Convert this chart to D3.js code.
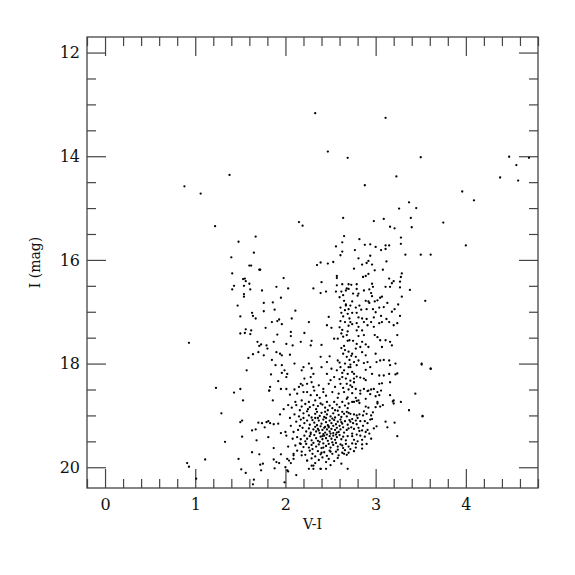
<!DOCTYPE html>
<html>
<head>
<meta charset="utf-8">
<script src="https://cdn.jsdelivr.net/npm/d3@7"></script>
<style>
  body { margin: 0; background: #fff; }
  text { font-family: "DejaVu Serif", "Liberation Serif", serif; fill: #111; }
</style>
</head>
<body>
<svg id="chart" width="575" height="575"></svg>
<script>
// stars as [V-I, I]
const brightStars = [
  [2.33,13.17],[3.11,13.26],[2.47,13.91],[2.69,14.03],[3.50,14.02],[3.23,14.39],[2.88,14.56],
  [4.48,14.01],[4.56,14.17],[4.70,14.03],[4.38,14.41],[4.58,14.47],[3.96,14.68],[4.09,14.85],
  [3.75,15.28],[4.00,15.72],[3.37,14.89],[3.26,15.01],[3.45,15.00],[3.39,15.19],[3.40,15.37],
  [3.16,15.36],[3.21,15.39],[3.09,15.21],[2.98,15.25],[2.64,15.19],[2.15,15.27],[2.19,15.34],
  [1.38,14.36],[0.88,14.58],[1.06,14.72],[1.22,15.35]
];

const blueStars = [
  [1.67,15.55],[1.48,15.65],[1.65,15.86],[1.40,15.95],[1.60,16.11],[1.62,16.11],[1.71,16.19],
  [1.41,16.26],[1.53,16.37],[1.55,16.36],[1.56,16.41],[1.60,16.46],[1.43,16.50],[1.54,16.50],
  [1.41,16.57],[1.61,16.57],[1.54,16.66],[1.54,16.71],[1.47,16.88],[1.63,17.02],[1.64,17.08],
  [1.50,17.09],[1.67,17.13],[1.56,17.34],[1.62,17.36],[1.50,17.42],[1.55,17.41],[1.61,17.43],
  [1.69,17.58],[1.71,17.66],[1.70,17.78],[1.64,17.82],[1.59,17.89],[0.93,17.60],[1.57,18.13],
  [1.23,18.47],[1.50,18.49],[1.43,18.56],[1.53,18.71],[1.29,18.96]
];

const faintBlue = [
  [1.50,19.13],[1.52,19.10],[1.70,19.14],[1.74,19.15],[1.81,19.11],[1.63,19.29],[1.67,19.27],
  [1.77,19.23],[1.52,19.41],[1.33,19.51],[1.68,19.48],[1.81,19.42],[1.63,19.71],[1.71,19.75],
  [1.48,19.84],[1.11,19.85],[1.72,19.95],[1.51,20.04],[1.56,20.11],[1.73,20.06],[0.91,19.92],
  [0.93,19.99],[1.01,20.22],[1.65,20.24],[1.64,20.33],[1.87,19.63],[1.87,19.85],[1.88,20.02],
  [1.93,19.92],[1.99,20.29],[1.95,19.75],[2.00,20.00],[2.02,19.84],[2.03,20.08],[2.06,19.92],
  [2.12,20.15],[2.09,19.77],[2.13,19.68],[1.82,18.52],[1.94,18.98],[1.79,19.13],[1.83,19.15],
  [1.87,19.17],[1.92,19.16],[1.95,19.34],[2.00,19.32],[2.01,19.39],[1.90,19.90],[1.75,19.93],
  [2.04,19.87],[2.09,19.84],[2.02,20.06],[2.09,19.74],[2.17,19.55],[2.18,19.77],[2.24,19.87],
  [2.29,19.97],[2.31,20.03],[2.39,20.03],[2.69,20.03],[2.09,19.32],[2.05,19.05],[1.98,18.88],
  [2.03,18.80]
];

const subgiants = [
  [2.39,16.05],[2.35,16.10],[2.47,16.07],[2.53,16.04],[2.40,16.43],[2.31,16.55],[2.45,16.61],
  [2.39,16.64],[1.98,16.35],[1.90,16.52],[2.03,16.55],[1.74,16.59],[1.95,16.73],[1.76,16.83],
  [1.86,16.82],[1.88,16.96],[2.11,16.98],[1.76,16.99],[2.48,17.10],[2.07,17.13],[1.93,17.15],
  [1.72,16.19],
  [1.85,17.20],[1.91,17.18],[1.96,17.24],[1.78,17.31],[2.26,17.20],[2.46,17.26],[2.51,17.31],
  [2.06,17.39],[2.06,17.47],[2.21,17.41],[1.91,17.44],[1.87,17.58],[1.79,17.65],[2.01,17.62],
  [2.08,17.65],[2.17,17.58],[2.29,17.56],[2.28,17.65],[2.40,17.64],[2.54,17.52],[2.58,17.52],
  [1.73,17.63],[1.80,17.71],[1.90,17.78],[1.94,17.81],[1.96,17.84],[2.05,17.83],[1.76,17.84],
  [1.85,17.93],[2.10,18.00],[2.39,17.87],[2.49,17.86],[2.58,17.94],[2.46,17.97],[2.26,18.00],
  [1.89,18.03],[1.96,18.03],[1.99,18.13],[2.02,18.20],[1.96,18.18],[2.01,18.26],[1.84,18.21],
  [2.20,18.07],[2.18,18.13],[2.29,18.09],[2.31,18.20],[2.28,18.26],[2.40,18.07],[2.51,18.10],
  [2.57,18.13],[2.21,18.29],[2.46,18.20],[2.54,18.26],[2.29,18.36],
  [1.92,18.34],[1.83,18.45],[1.82,18.52],[1.95,18.49],[2.01,18.49],[1.86,18.71],[2.17,18.39],
  [2.19,18.42],[2.15,18.45],[2.24,18.39],[2.31,18.45],[2.37,18.42],[2.42,18.49],[2.48,18.39],
  [2.50,18.32],[2.55,18.45],[2.13,18.58],[2.20,18.55],[2.28,18.61],[2.35,18.61],[2.42,18.55],
  [2.52,18.55],[2.59,18.58],[2.11,18.74],[2.18,18.71],[2.26,18.74],[2.33,18.71],[2.39,18.77],
  [2.46,18.74],[2.54,18.74],
  [2.05,18.60],[2.10,18.50],[2.24,18.55],[2.32,18.52],[2.38,18.66],[2.45,18.62],[2.07,18.85],
  [2.16,18.90]
];

const giantBranch = [
  [2.65,15.54],[2.63,15.66],[2.56,15.74],[2.63,15.84],[2.61,15.91],[2.57,16.31],[2.57,16.35],
  [2.57,16.49],[2.63,16.47],[2.68,16.55],[2.70,16.47],[2.56,16.61],[2.62,16.61],[2.67,16.59],
  [2.70,16.56],[2.60,16.72],[2.65,16.79],[2.67,16.86],[2.61,16.92],[2.66,16.97],[2.69,17.04],
  [2.64,17.09],[2.71,17.13],
  [2.82,15.60],[2.88,15.71],[2.94,15.70],[3.00,15.75],[3.11,15.72],[3.15,15.72],[3.06,15.81],
  [3.11,15.79],[3.28,15.57],[3.28,15.69],[3.33,15.90],[3.50,15.90],[3.61,15.90],[2.77,15.81],
  [2.81,15.97],[2.94,15.92],[2.92,16.02],[2.96,16.09],[2.85,16.09],[2.90,16.06],[3.12,16.03],
  [2.76,16.17],[2.99,16.20],[3.08,16.19],[2.92,16.27],[2.89,16.31],[2.86,16.33],[3.29,16.26],
  [3.28,16.33],[3.15,16.36],[3.20,16.41],[3.18,16.45],[3.27,16.42],[3.16,16.52],[3.11,16.52],
  [2.96,16.46],[2.97,16.52],[3.38,16.58],[3.27,16.53],[2.73,16.48],[2.79,16.47],[2.79,16.56],
  [2.87,16.59],[2.93,16.57],[2.95,16.64],[2.75,16.65],[2.80,16.69],[2.81,16.65],[2.96,16.70],
  [3.05,16.73],[3.07,16.71],[3.02,16.78],[3.29,16.71],[3.13,16.83],[3.55,16.79],[3.25,16.86],
  [2.89,16.79],[2.92,16.80],[2.93,16.83],[2.99,16.80],[2.74,16.80],[2.72,16.88],[2.78,16.92],
  [2.82,16.88],[2.84,16.96],[2.90,16.95],[2.97,16.95],[3.00,17.01],[3.09,16.91],[3.04,16.92],
  [3.21,16.95],[3.18,17.00],[2.74,17.02],[2.79,17.02],[2.81,17.11],[2.85,17.13],[2.90,17.14],
  [2.98,17.11],[3.06,17.08],[3.27,17.08],[3.12,17.14],
  [2.61,17.18],[2.60,17.30],[2.63,17.35],[2.62,17.42],[2.69,17.38],[2.72,17.20],[2.65,17.66],
  [2.69,17.56],[2.64,17.81],[2.68,17.87],[2.71,17.93],[2.61,18.07],[2.65,18.13],[2.70,18.07],
  [2.69,18.20],[2.63,18.26],[2.61,18.39],[2.68,18.39],[2.65,18.55],[2.69,18.65],[2.63,18.74],
  [2.70,18.77],
  [2.64,16.68],[2.67,16.88],[2.70,16.95],[2.62,17.02],[2.66,17.20],[2.70,17.27],[2.64,17.48],
  [2.68,17.45],[2.71,17.55],[2.62,17.70],[2.66,17.74],[2.70,17.77],[2.73,17.85],[2.60,17.98],
  [2.66,18.00],[2.72,18.02],[2.63,18.18],[2.67,18.29],[2.72,18.33],[2.60,18.30],[2.64,18.47],
  [2.70,18.50],[2.74,18.57],[2.58,18.66],[2.68,18.68],
  [2.74,17.24],[2.79,17.22],[2.81,17.29],[2.87,17.20],[2.91,17.26],[2.95,17.20],[2.98,17.29],
  [3.04,17.22],[3.07,17.20],[3.15,17.20],[3.20,17.26],[3.24,17.22],[2.79,17.36],[2.85,17.36],
  [2.99,17.45],[3.02,17.49],[2.81,17.47],[2.87,17.45],[3.24,17.45],[2.75,17.56],[2.79,17.62],
  [2.85,17.58],[2.89,17.63],[2.92,17.68],[3.05,17.55],[3.11,17.55],[3.16,17.58],[3.18,17.65],
  [3.07,17.68],[2.83,17.68],[2.78,17.71],[2.74,17.81],[2.78,17.87],[2.85,17.78],[2.89,17.84],
  [3.00,17.81],[2.76,17.97],[2.81,17.94],[2.87,17.99],[2.91,17.97],[3.01,17.97],[3.05,17.94],
  [3.09,17.93],[3.15,17.94],[3.16,18.03],[3.22,18.00],[2.72,18.07],[2.79,18.03],[2.94,18.07],
  [2.89,18.12],[3.51,18.00],[3.61,18.10],[3.24,18.19],[3.22,18.21],[2.74,18.16],[2.76,18.20],
  [2.79,18.25],[2.76,18.29],[2.83,18.27],[2.89,18.32],[2.87,18.29],[2.96,18.20],[3.04,18.23],
  [3.09,18.23],[3.15,18.20],[3.16,18.36],[3.07,18.38],[3.04,18.39],[2.76,18.36],[2.72,18.42],
  [2.74,18.45],[2.78,18.49],[2.83,18.52],[2.87,18.49],[2.91,18.53],[2.92,18.52],[2.95,18.50],
  [2.98,18.49],[3.02,18.55],[3.06,18.52],[2.83,18.58],[2.94,18.59],[3.00,18.63],[2.81,18.71],
  [2.76,18.74],[3.04,18.61],[3.16,18.61],[3.20,18.71],[3.28,18.74],[3.44,18.58],[3.02,18.74],
  [2.78,18.66],[2.89,18.68],[3.51,18.02],[3.61,18.10],[3.52,19.02]
];

const clump = [
  [2.74,18.74],[2.79,18.72],[2.82,18.76],[2.89,18.83],[2.92,18.85],[2.97,18.94],[3.00,18.84],
  [3.02,18.77],[3.05,18.83],[3.08,18.80],[3.19,18.73],[3.20,18.77],[3.37,18.90],[3.52,19.01],
  [3.11,19.12],[3.13,19.23],[3.21,19.14],[3.01,19.21],[3.24,19.40],[2.76,19.69],[2.85,19.64],
  [2.90,19.55],[2.85,19.56],[2.72,18.97],[2.76,18.98],[2.79,19.00],[2.82,18.98],[2.86,19.00],
  [2.90,18.97],[2.95,19.00],[2.74,19.07],[2.78,19.10],[2.75,19.15],[2.79,19.17],[2.83,19.11],
  [2.88,19.11],[2.91,19.15],[2.94,19.08],[2.96,19.07],[2.73,19.23],[2.76,19.26],[2.81,19.24],
  [2.85,19.29],[2.89,19.32],[2.91,19.28],[2.74,19.35],[2.79,19.37],[2.83,19.39],[2.88,19.41],
  [2.76,19.47],[2.80,19.50],[2.85,19.47],[2.74,19.54],[2.78,19.55],[2.72,19.65],
  [2.12,18.80],[2.18,18.83],[2.22,18.78],[2.27,18.84],[2.31,18.80],[2.36,18.82],[2.41,18.79],
  [2.44,18.85],[2.49,18.81],[2.52,18.86],[2.57,18.79],[2.60,18.84],[2.66,18.81],[2.69,18.86],
  [2.34,18.88],[2.47,18.90],[2.58,18.91],[2.24,18.92],[2.63,18.93],
  [2.10,18.98],[2.15,19.02],[2.20,18.96],[2.26,19.00],[2.29,19.04],[2.33,18.97],[2.38,19.01],
  [2.40,18.95],[2.43,19.03],[2.46,18.98],[2.50,19.02],[2.53,18.96],[2.55,19.04],[2.59,18.99],
  [2.62,19.03],[2.65,18.97],[2.68,19.02],[2.70,18.95],[2.36,19.05],[2.52,19.06],[2.44,18.93],
  [2.12,19.12],[2.17,19.08],[2.21,19.15],[2.24,19.10],[2.27,19.18],[2.30,19.09],[2.32,19.14],
  [2.35,19.19],[2.37,19.10],[2.40,19.16],[2.42,19.08],[2.45,19.13],[2.47,19.19],[2.49,19.10],
  [2.51,19.15],[2.54,19.09],[2.56,19.17],[2.58,19.12],[2.61,19.08],[2.63,19.16],[2.66,19.11],
  [2.69,19.18],[2.71,19.09],[2.39,19.21],[2.53,19.20],[2.60,19.20],[2.44,19.22],
  [2.14,19.28],[2.19,19.24],[2.23,19.31],[2.26,19.25],[2.28,19.33],[2.31,19.27],[2.33,19.22],
  [2.34,19.31],[2.36,19.26],[2.38,19.34],[2.41,19.28],[2.43,19.24],[2.44,19.33],[2.46,19.27],
  [2.48,19.23],[2.49,19.31],[2.51,19.26],[2.53,19.34],[2.55,19.28],[2.57,19.24],[2.59,19.32],
  [2.61,19.27],[2.64,19.23],[2.65,19.33],[2.68,19.28],[2.70,19.25],[2.37,19.29],[2.50,19.35],
  [2.42,19.36],[2.56,19.37],
  [2.13,19.42],[2.17,19.46],[2.21,19.39],[2.24,19.45],[2.27,19.40],[2.29,19.48],[2.32,19.38],
  [2.34,19.44],[2.36,19.49],[2.39,19.41],[2.41,19.46],[2.43,19.39],[2.45,19.44],[2.47,19.49],
  [2.49,19.40],[2.51,19.45],[2.53,19.39],[2.55,19.47],[2.57,19.42],[2.60,19.38],[2.62,19.46],
  [2.64,19.41],[2.67,19.48],[2.69,19.40],[2.38,19.51],[2.52,19.52],[2.46,19.37],
  [2.11,19.58],[2.16,19.54],[2.20,19.61],[2.23,19.55],[2.26,19.62],[2.29,19.57],[2.31,19.53],
  [2.34,19.60],[2.37,19.56],[2.40,19.63],[2.42,19.54],[2.45,19.59],[2.48,19.55],[2.50,19.62],
  [2.53,19.57],[2.56,19.53],[2.58,19.60],[2.61,19.56],[2.64,19.63],[2.67,19.55],[2.70,19.60],
  [2.18,19.70],[2.22,19.76],[2.27,19.68],[2.30,19.74],[2.33,19.79],[2.36,19.69],[2.39,19.75],
  [2.43,19.71],[2.46,19.78],[2.49,19.68],[2.52,19.74],[2.56,19.70],[2.59,19.77],[2.63,19.72],
  [2.66,19.67],[2.68,19.76],
  [2.24,19.87],[2.29,19.83],[2.33,19.92],[2.37,19.86],[2.41,19.81],[2.45,19.90],[2.48,19.84],
  [2.54,19.88],[2.58,19.82],[2.62,19.93],[2.45,20.03],[2.26,20.03],[2.39,20.03],[2.31,19.97],
  [2.50,19.96],[2.65,19.74],
  [2.20,19.05],[2.28,19.36],[2.35,18.93],[2.42,19.62],[2.74,19.40],[2.80,19.05],[2.86,19.20],
  [2.93,19.35],[2.70,19.72],[2.78,19.62],[2.16,19.20],[2.22,19.50],[2.30,19.65],[2.55,18.90],
  [2.63,19.58],[2.87,18.92],[2.95,19.45],[2.82,19.30],[2.72,19.12],[2.25,18.88],[2.06,19.20],
  [2.08,19.45],[2.03,19.60],[2.98,19.25],[2.68,18.93],[2.50,19.70],[2.40,19.72],[2.58,19.66],
  [2.33,19.05],[2.45,19.05],[2.48,19.21],[2.57,19.33],[2.41,19.40],[2.62,19.13]
];

const xMajor = [0, 1, 2, 3, 4];
const yMajor = [12, 14, 16, 18, 20];

const width = 575;
const height = 575;
const margin = { top: 37, right: 37, bottom: 87, left: 87 };

const svg = d3.select("#chart");

const xScale = d3.scaleLinear()
    .domain([-0.2, 4.8])
    .range([margin.left, width - margin.right]);

const yScale = d3.scaleLinear()
    .domain([11.7, 20.4])
    .range([margin.top, height - margin.bottom]);

const xMinor = d3.range(-0.2, 4.81, 0.2).map(d => +d.toFixed(1)).filter(d => !xMajor.includes(d));
const yMinor = d3.range(12, 20.01, 0.5).filter(d => !yMajor.includes(d));

const bottom = height - margin.bottom;
const right = width - margin.right;

// draws one side of the frame: major ticks (optionally labelled) plus minor ticks, all pointing inward
function drawAxis(axisFn, transform, opts) {
    const g = svg.append("g").attr("transform", transform);
    g.call(axisFn(opts.scale).tickValues(opts.major).tickSize(-19).tickPadding(opts.pad)
        .tickFormat(opts.show ? d3.format("d") : () => ""));
    g.select(".domain").remove();
    const m = svg.append("g").attr("transform", transform);
    m.call(axisFn(opts.scale).tickValues(opts.minor).tickSize(-9).tickFormat(() => ""));
    m.select(".domain").remove();
    svg.selectAll(".tick line").attr("stroke", "#444").attr("stroke-width", 1.2);
    g.selectAll("text").style("font-size", "16px").attr("fill", "#111");
}

const xOpts = { scale: xScale, major: xMajor, minor: xMinor };
const yOpts = { scale: yScale, major: yMajor, minor: yMinor };

drawAxis(d3.axisBottom, `translate(0,${bottom})`, { ...xOpts, show: true, pad: 11 });
drawAxis(d3.axisTop, `translate(0,${margin.top})`, { ...xOpts, show: false, pad: 4 });
drawAxis(d3.axisLeft, `translate(${margin.left},0)`, { ...yOpts, show: true, pad: 7 });
drawAxis(d3.axisRight, `translate(${right},0)`, { ...yOpts, show: false, pad: 4 });

// frame
svg.append("rect")
    .attr("x", margin.left)
    .attr("y", margin.top)
    .attr("width", right - margin.left)
    .attr("height", bottom - margin.top)
    .attr("fill", "none")
    .attr("stroke", "#444")
    .attr("stroke-width", 1.3);

// stars
const allStars = [].concat(brightStars, blueStars, faintBlue, subgiants, giantBranch, clump);
svg.append("g")
    .selectAll("circle")
    .data(allStars)
    .enter()
    .append("circle")
    .attr("cx", d => xScale(d[0]))
    .attr("cy", d => yScale(d[1]))
    .attr("r", 1.15)
    .attr("fill", "#000");

// axis titles
svg.append("text")
    .attr("x", (margin.left + right) / 2)
    .attr("y", 529)
    .attr("text-anchor", "middle")
    .style("font-size", "14px")
    .text("V-I");

svg.append("text")
    .attr("transform", `translate(40,${(margin.top + bottom) / 2}) rotate(-90)`)
    .attr("text-anchor", "middle")
    .style("font-size", "14px")
    .text("I (mag)");
</script>
</body>
</html>
